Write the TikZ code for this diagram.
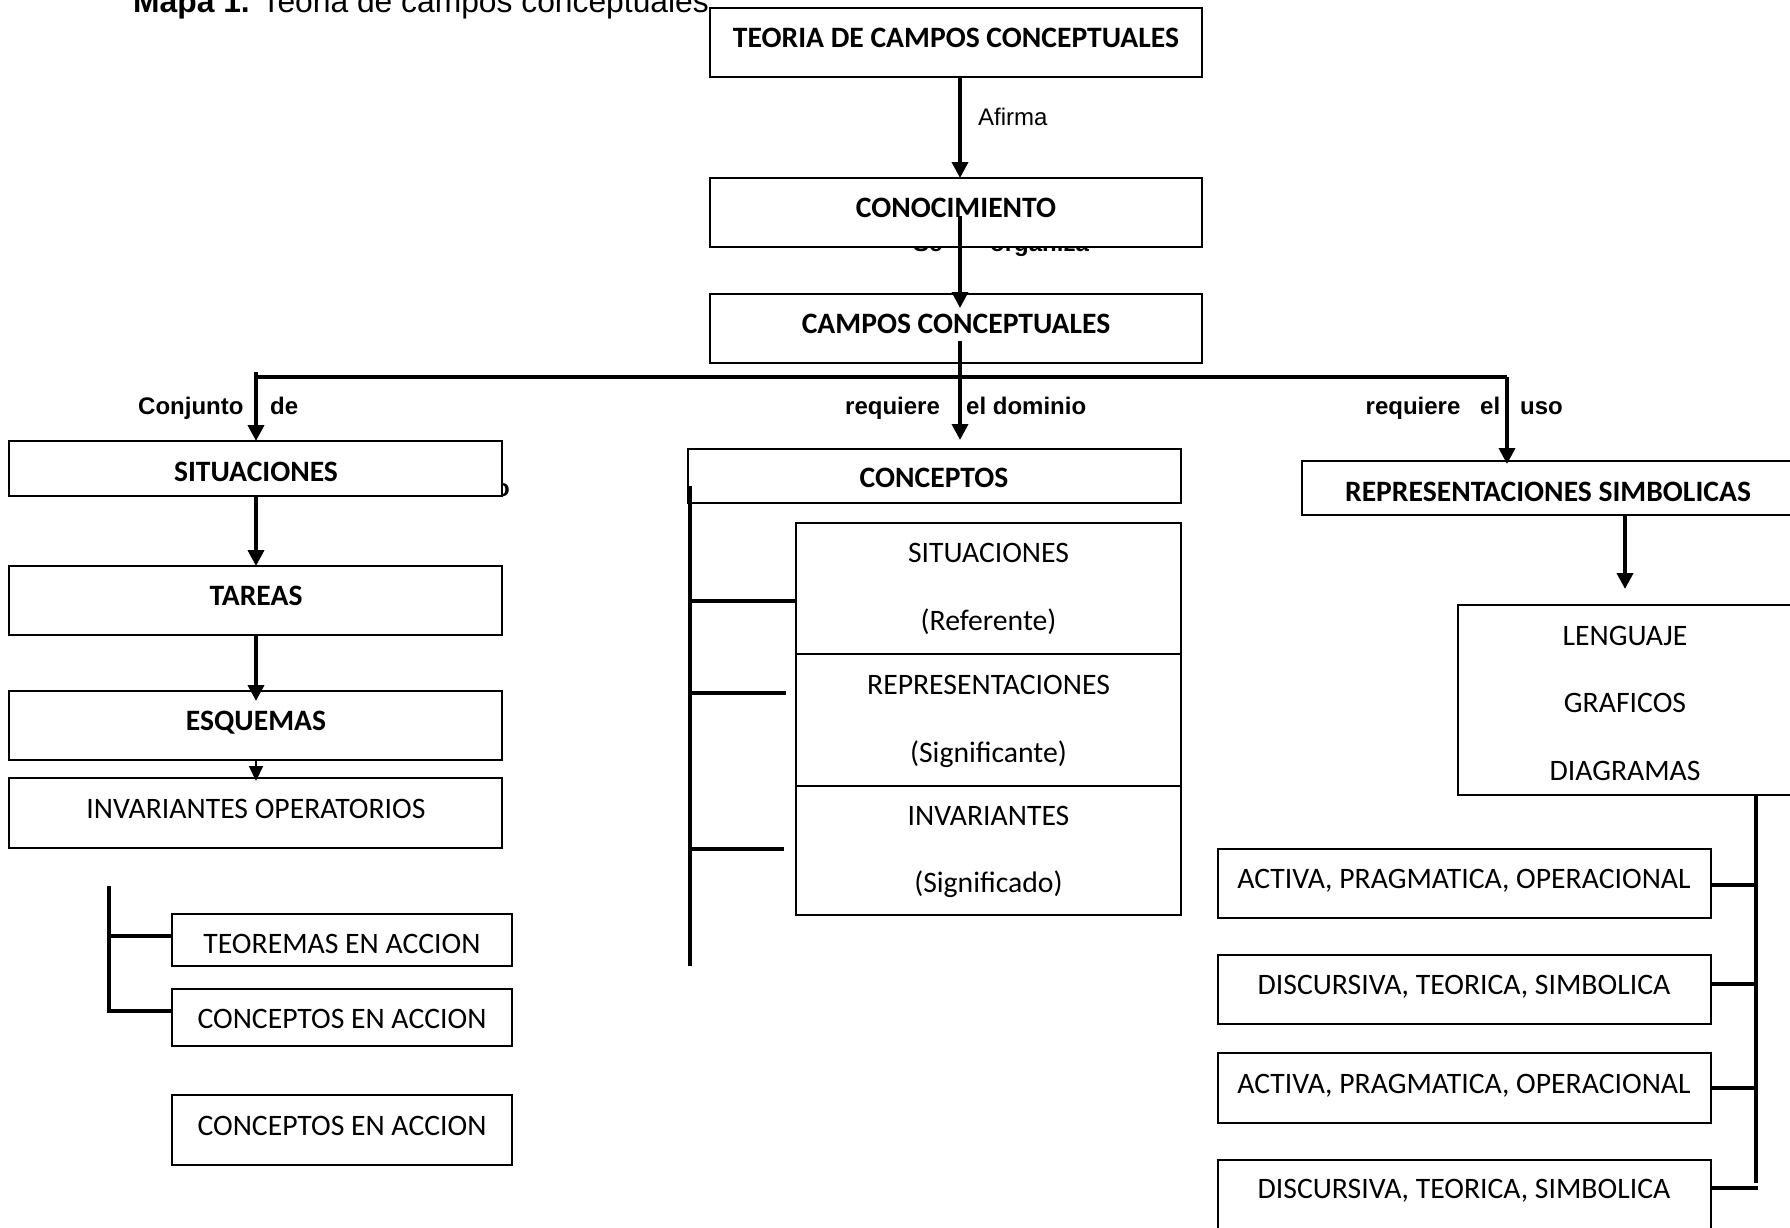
\documentclass[tikz,border=0pt]{standalone}
\usepackage{fontspec}
\setmainfont{Carlito}
\newfontfamily\arialf{Liberation Sans}
\usetikzlibrary{arrows.meta,calc}
\tikzset{
 box/.style={draw, line width=2pt, fill=white, inner sep=0pt, outer sep=0pt},
 tx/.style={font=\fontsize{29.7}{35}\selectfont, inner sep=0pt, anchor=base},
 btx/.style={font=\fontsize{29.6}{35}\selectfont\bfseries, inner sep=0pt, anchor=base},
 lab/.style={font=\arialf\fontsize{24}{28}\selectfont\bfseries, inner sep=0pt, anchor=base west},
 labr/.style={font=\arialf\fontsize{24}{28}\selectfont, inner sep=0pt, anchor=base west},
 arr/.style={line width=3.7pt, -{Triangle[width=16pt,length=16pt]}},
 bar/.style={line width=4pt},
 twig/.style={line width=3.2pt},
}
\newcommand\bx[5]{\node[box, minimum width={#4-#2}, minimum height={#5-#3}] (#1) at ({(#2+#4)/2},{(#3+#5)/2}) {};}
\begin{document}
\begin{tikzpicture}[x=1pt,y=-1pt]
\useasboundingbox (0,0) rectangle (1790,1227);
\clip (0,0) rectangle (1790,1227);
% title
\node[anchor=base west, inner sep=0pt, font=\arialf\fontsize{31.8}{36}\selectfont] (title) at (133,12) {\textbf{Mapa 1.} Teoria de campos conceptuales};
% partly hidden texts
\node[lab] (hid1) at (913,251) {Se};
\node[lab] (hid2) at (990,251) {organiza};
\node[lab] (hid3) at (495,496) {o};
% boxes
\bx{teoria}{710}{8}{1202}{77}
\bx{conoc}{710}{178}{1202}{247}
\bx{campos}{710}{294}{1202}{363}
\bx{sit}{9}{441}{502}{496}
\bx{tareas}{9}{566}{502}{635}
\bx{esq}{9}{691}{502}{760}
\bx{invop}{9}{778}{502}{848}
\bx{teoremas}{172}{914}{512}{966}
\bx{ceaa}{172}{989}{512}{1046}
\bx{ceab}{172}{1095}{512}{1165}
\bx{conceptos}{688}{449}{1181}{503}
\bx{biga}{796}{523}{1181}{654}
\bx{bigb}{796}{654}{1181}{786}
\bx{bigc}{796}{786}{1181}{915}
\bx{repsimb}{1302}{461}{1800}{515}
\bx{leng}{1458}{605}{1800}{795}
\bx{acta}{1218}{849}{1711}{918}
\bx{disca}{1218}{955}{1711}{1024}
\bx{actb}{1218}{1053}{1711}{1123}
\bx{discb}{1218}{1160}{1711}{1232}
% texts
\node[btx] (teoria-t) at (956,47) {TEORIA DE CAMPOS CONCEPTUALES};
\node[btx] (conoc-t) at (956,217) {CONOCIMIENTO};
\node[btx] (campos-t) at (956,333) {CAMPOS CONCEPTUALES};
\node[btx] (sit-t) at (256,481) {SITUACIONES};
\node[btx] (tareas-t) at (256,605) {TAREAS};
\node[btx] (esq-t) at (256,730) {ESQUEMAS};
\node[tx] (invop-t) at (256,818) {INVARIANTES OPERATORIOS};
\node[tx] (teoremas-t) at (342,953) {TEOREMAS EN ACCION};
\node[tx] (ceaa-t) at (342,1028) {CONCEPTOS EN ACCION};
\node[tx] (ceab-t) at (342,1135) {CONCEPTOS EN ACCION};
\node[btx] (conceptos-t) at (934,487) {CONCEPTOS};
\node[tx] (biga-t1) at (988.5,562) {SITUACIONES};
\node[tx] (biga-t2) at (988.5,630) {(Referente)};
\node[tx] (bigb-t1) at (988.5,694) {REPRESENTACIONES};
\node[tx] (bigb-t2) at (988.5,762) {(Significante)};
\node[tx] (bigc-t1) at (988.5,825) {INVARIANTES};
\node[tx] (bigc-t2) at (988.5,892) {(Significado)};
\node[btx] (repsimb-t) at (1548,501) {REPRESENTACIONES SIMBOLICAS};
\node[tx] (leng-t1) at (1625,645) {LENGUAJE};
\node[tx] (leng-t2) at (1625,712) {GRAFICOS};
\node[tx] (leng-t3) at (1625,780) {DIAGRAMAS};
\node[tx] (acta-t) at (1464,888) {ACTIVA, PRAGMATICA, OPERACIONAL};
\node[tx] (disca-t) at (1464,994) {DISCURSIVA, TEORICA, SIMBOLICA};
\node[tx] (actb-t) at (1464,1093) {ACTIVA, PRAGMATICA, OPERACIONAL};
\node[tx] (discb-t) at (1464,1198) {DISCURSIVA, TEORICA, SIMBOLICA};
% connector labels
\node[labr] (afirma) at (978,125.6) {Afirma};
\node[lab] (lconj) at (138,414) {Conjunto};
\node[lab] (lde) at (270,414) {de};
\node[lab] (lreq1) at (845,414) {requiere};
\node[lab] (ldom) at (966,414) {el dominio};
\node[lab] (lreq2) at (1365.5,414) {requiere};
\node[lab] (lel) at (1480,414) {el};
\node[lab] (luso) at (1520,414) {uso};
% connectors
\coordinate (spine) at (960,0);
\coordinate (hl) at (256,377);
\coordinate (hr) at (1507,377);
\draw[arr] (teoria.south -| spine) -- (conoc.north -| spine);
\draw[arr] ($(conoc.center -| spine)+(0,3)$) -- ($(campos.north -| spine)+(0,14)$);
\draw[arr] ($(campos.center -| spine)+(0,12)$) -- ($(conceptos.north -| spine)+(0,-9)$);
\draw[bar] (hl) -- (hr);
\draw[arr] ($(hl)+(0,-5)$) -- (sit.north -| hl);
\draw[arr] (hr) -- ($(repsimb.north -| hr)+(0,3)$);
\draw[arr] (sit.south -| hl) -- (tareas.north -| hl);
\draw[arr] (tareas.south -| hl) -- ($(esq.north -| hl)+(0,10)$);
\draw[line width=2pt, -{Triangle[width=14pt,length=15pt]}] (esq.south -| hl) -- ($(invop.north -| hl)+(0,3)$);
\draw[arr] ($(repsimb.south -| 1625,0)$) -- ($(leng.north -| 1625,0)+(0,-16)$);
% left bracket
\coordinate (lbt) at (109,886);
\coordinate (lbb) at (109,1011);
\draw[bar] (lbt) -- (lbb) -- (lbb -| ceaa.west);
\draw[twig] (lbt |- 0,936) -- (teoremas.west |- 0,936);
% middle bracket
\coordinate (mbt) at (690,486);
\coordinate (mbb) at (690,966);
\draw[bar] (mbt) -- (mbb);
\draw[twig] (mbt |- 0,601) -- (biga.west |- 0,601);
\draw[twig] (mbt |- 0,693) -- ($(bigb.west |- 0,693)+(-10,0)$);
\draw[twig] (mbt |- 0,849) -- ($(bigc.west |- 0,849)+(-12,0)$);
% right bracket
\coordinate (rbt) at (leng.south -| 1756,0);
\coordinate (rbb) at (1756,1183);
\draw[bar] (rbt) -- (rbb);
\draw[twig] (acta.east |- 0,885) -- (rbt |- 0,885);
\draw[twig] (disca.east |- 0,984) -- (rbt |- 0,984);
\draw[twig] (actb.east |- 0,1088) -- (rbt |- 0,1088);
\draw[twig] (discb.east |- 0,1188) -- ($(rbt |- 0,1188)+(2,0)$);
\end{tikzpicture}
\end{document}
